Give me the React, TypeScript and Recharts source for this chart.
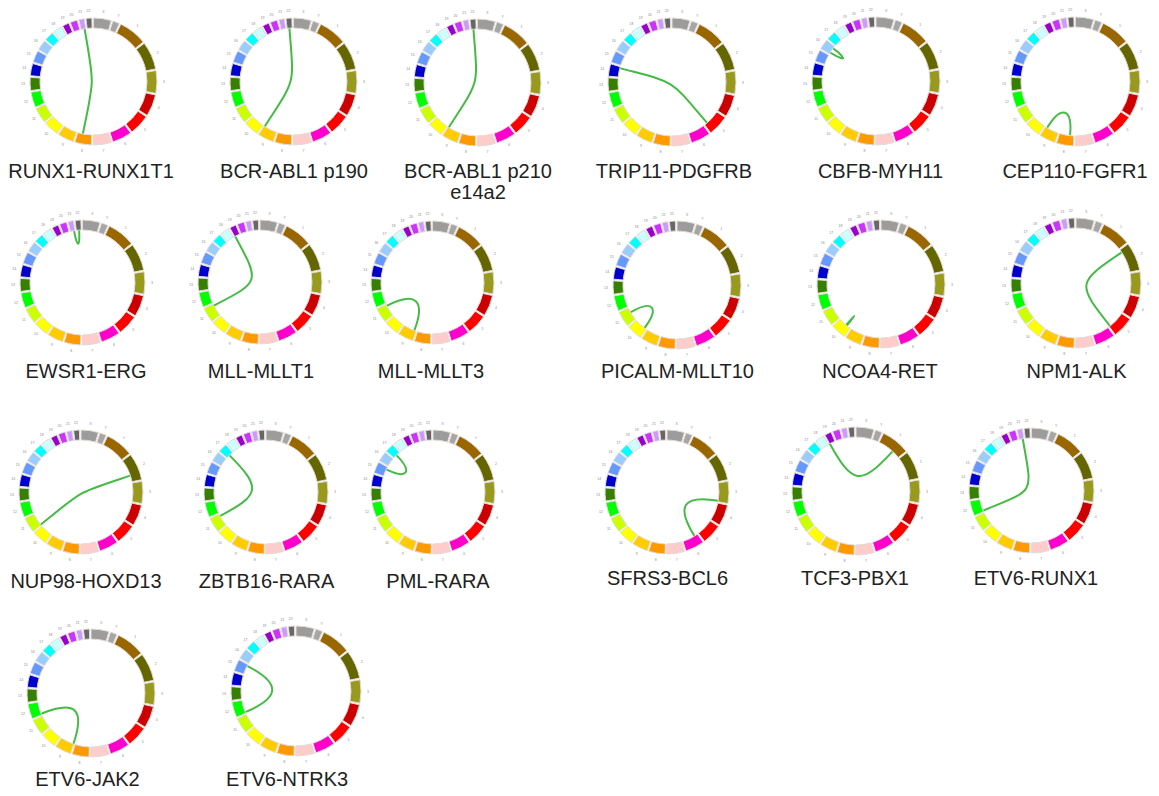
import React from 'react';
import { PieChart, Pie, Cell, Customized } from 'recharts';

// hg19 karyotype, drawn clockwise
const CHROMS = ['1', '2', '3', '4', '5', '6', '7', '8', '9', '10', '11', '12', '13', '14', '15', '16', '17', '18', '19', '20', '21', '22', 'X', 'Y'];
const CHROM_MB = [249.25, 243.2, 198.02, 191.15, 180.92, 171.12, 159.14, 146.36, 141.21, 135.53, 135.01, 133.85, 115.17, 107.35, 102.53, 90.35, 81.2, 78.08, 59.13, 63.03, 48.13, 51.3, 155.27, 59.37];
const CHROM_COLORS = [
  '#996600', '#666600', '#99991e', '#cc0000', '#ff0000', '#ff00cc', '#ffcccc', '#ff9900',
  '#ffcc00', '#ffff00', '#ccff00', '#00ff00', '#358000', '#0000cc', '#6699ff', '#99ccff',
  '#00ffff', '#ccffff', '#9900cc', '#cc33ff', '#cc99ff', '#666666', '#9c9c9c', '#a6a6a6',
];

const FUSIONS = [
  'RUNX1-RUNX1T1', 'BCR-ABL1 p190', 'BCR-ABL1 p210\ne14a2', 'TRIP11-PDGFRB', 'CBFB-MYH11', 'CEP110-FGFR1',
  'EWSR1-ERG', 'MLL-MLLT1', 'MLL-MLLT3', 'PICALM-MLLT10', 'NCOA4-RET', 'NPM1-ALK',
  'NUP98-HOXD13', 'ZBTB16-RARA', 'PML-RARA', 'SFRS3-BCL6', 'TCF3-PBX1', 'ETV6-RUNX1',
  'ETV6-JAK2', 'ETV6-NTRK3',
];
// 5' partner locus (chromosome, Mb)
const GENE_A_CHR = ['21', '22', '22', '14', '16', '9', '22', '11', '11', '11', '10', '5', '11', '11', '15', '6', '19', '12', '12', '12'];
const GENE_A_MB = [36.2, 23.55, 23.63, 92.4, 67.1, 123.8, 29.7, 118.4, 118.4, 85.7, 51.6, 170.8, 3.7, 113.9, 74.3, 36.6, 1.6, 11.8, 11.8, 11.8];
// 3' partner locus (chromosome, Mb)
const GENE_B_CHR = ['8', '9', '9', '5', '16', '8', '21', '19', '9', '10', '10', '2', '2', '17', '17', '3', '1', '21', '9', '15'];
const GENE_B_MB = [93.0, 133.6, 133.6, 149.5, 15.8, 38.3, 39.8, 6.2, 20.3, 21.8, 43.6, 29.4, 176.9, 38.5, 38.5, 187.4, 164.5, 36.2, 5.0, 88.4];

// panel placement: ring centre / outer radius, label anchor
const LAYOUT = [
  { cx: 93, cy: 81, r: 63.5, lx: 91, ly: 177.5 },
  { cx: 293, cy: 81, r: 63.5, lx: 294, ly: 177.5 },
  { cx: 477, cy: 82, r: 63.5, lx: 478, ly: 177.5 },
  { cx: 672, cy: 82, r: 64, lx: 674, ly: 177.5 },
  { cx: 875.5, cy: 81, r: 64, lx: 880.5, ly: 177.5 },
  { cx: 1075, cy: 81, r: 64.5, lx: 1075, ly: 177.5 },
  { cx: 82, cy: 282.5, r: 62.5, lx: 86, ly: 378 },
  { cx: 260, cy: 282, r: 62, lx: 261, ly: 378 },
  { cx: 432, cy: 282, r: 61.5, lx: 431, ly: 378 },
  { cx: 677, cy: 285, r: 64, lx: 677.5, ly: 377.5 },
  { cx: 881, cy: 284, r: 64, lx: 880, ly: 377.5 },
  { cx: 1076, cy: 282.5, r: 65, lx: 1076.5, ly: 377.5 },
  { cx: 81, cy: 492, r: 62, lx: 86, ly: 588 },
  { cx: 265.5, cy: 492, r: 62, lx: 266.5, ly: 588 },
  { cx: 433, cy: 492, r: 62, lx: 438, ly: 588 },
  { cx: 666.5, cy: 492, r: 62, lx: 667.5, ly: 585 },
  { cx: 855.5, cy: 491, r: 64, lx: 855, ly: 585 },
  { cx: 1031, cy: 490, r: 62.5, lx: 1036, ly: 585 },
  { cx: 91, cy: 693, r: 64, lx: 87.5, ly: 786 },
  { cx: 296, cy: 691, r: 65, lx: 287, ly: 786 },
];

const PAD = 1.5;
const START_ANGLE = 90 - 25.5; // chr1 begins a little past 12 o'clock
const RING_W = 10;
const LINK_COLOR = '#44bb44';
const FONT = '"Liberation Sans", Arial, sans-serif';

const CHROM_DATA = CHROMS.map((chr, i) => ({ chr, mb: CHROM_MB[i] }));

// Same sweep bookkeeping as the Pie uses, so link ends land on their sector
const TOTAL_MB = CHROM_MB.reduce((s, v) => s + v, 0);
const SWEEP = 360 - PAD * CHROM_MB.length;
const CHROM_START: number[] = [];
{
  let acc = START_ANGLE;
  CHROM_MB.forEach((mb) => {
    CHROM_START.push(acc);
    acc -= (mb / TOTAL_MB) * SWEEP + PAD;
  });
}

function angleOf(chr: string, mb: number) {
  return CHROM_START[CHROMS.indexOf(chr)] - (mb / TOTAL_MB) * SWEEP;
}

function polar(cx: number, cy: number, r: number, deg: number): [number, number] {
  const a = (deg * Math.PI) / 180;
  return [cx + r * Math.cos(a), cy - r * Math.sin(a)];
}

function TickLabel(props: any) {
  const { cx, cy, midAngle, outerRadius, index } = props;
  const [x, y] = polar(cx, cy, outerRadius + 7, midAngle);
  return (
    <text x={x} y={y} fontSize={3.5} fill="#8c8c8c" textAnchor="middle" dominantBaseline="central" fontFamily={FONT}>
      {CHROMS[index]}
    </text>
  );
}

// cubic bezier leaving each end radially; shorter links keep their control points nearer the ring
function FusionLink({ c, rIn, a, b }: { c: number; rIn: number; a: number; b: number }) {
  const d = Math.abs(a - b) % 360;
  const span = Math.min(d, 360 - d);
  const q = Math.max(-0.1, 0.7 - 0.008 * span);
  const [x0, y0] = polar(c, c, rIn, a);
  const [x1, y1] = polar(c, c, rIn * q, a);
  const [x2, y2] = polar(c, c, rIn * q, b);
  const [x3, y3] = polar(c, c, rIn, b);
  return (
    <path
      d={`M${x0},${y0} C${x1},${y1} ${x2},${y2} ${x3},${y3}`}
      fill="none"
      stroke={LINK_COLOR}
      strokeWidth={2}
      strokeLinecap="round"
    />
  );
}

function CircosPanel({ index }: { index: number }) {
  const { cx, cy, r } = LAYOUT[index];
  const size = Math.ceil(2 * (r + 14));
  const c = size / 2;
  const rIn = r - RING_W;
  const a = angleOf(GENE_A_CHR[index], GENE_A_MB[index]);
  const b = angleOf(GENE_B_CHR[index], GENE_B_MB[index]);
  return (
    <div style={{ position: 'absolute', left: cx - c, top: cy - c, width: size, height: size }}>
      <PieChart width={size} height={size} margin={{ top: 0, right: 0, bottom: 0, left: 0 }}>
        <Pie
          data={CHROM_DATA}
          dataKey="mb"
          nameKey="chr"
          cx={c}
          cy={c}
          innerRadius={rIn}
          outerRadius={r}
          startAngle={START_ANGLE}
          endAngle={START_ANGLE - 360}
          paddingAngle={PAD}
          stroke="#e2dcd6"
          strokeWidth={1}
          label={TickLabel}
          labelLine={false}
          isAnimationActive={false}
        >
          {CHROM_DATA.map((d, i) => (
            <Cell key={d.chr} fill={CHROM_COLORS[i]} />
          ))}
        </Pie>
        <Customized component={<FusionLink c={c} rIn={rIn} a={a} b={b} />} />
      </PieChart>
    </div>
  );
}

export default function App() {
  return (
    <div style={{ position: 'absolute', left: 0, top: 0, width: 1159, height: 796, background: '#fff', overflow: 'hidden' }}>
      <svg width={1159} height={796} style={{ position: 'absolute', left: 0, top: 0 }}>
        {FUSIONS.map((name, i) =>
          name.split('\n').map((line, j) => (
            <text
              key={`${name}-${j}`}
              x={LAYOUT[i].lx}
              y={LAYOUT[i].ly + j * 21.5}
              textAnchor="middle"
              fontFamily={FONT}
              fontSize={20}
              fill="#222"
            >
              {line}
            </text>
          )),
        )}
      </svg>
      {FUSIONS.map((name, i) => (
        <CircosPanel key={name} index={i} />
      ))}
    </div>
  );
}
